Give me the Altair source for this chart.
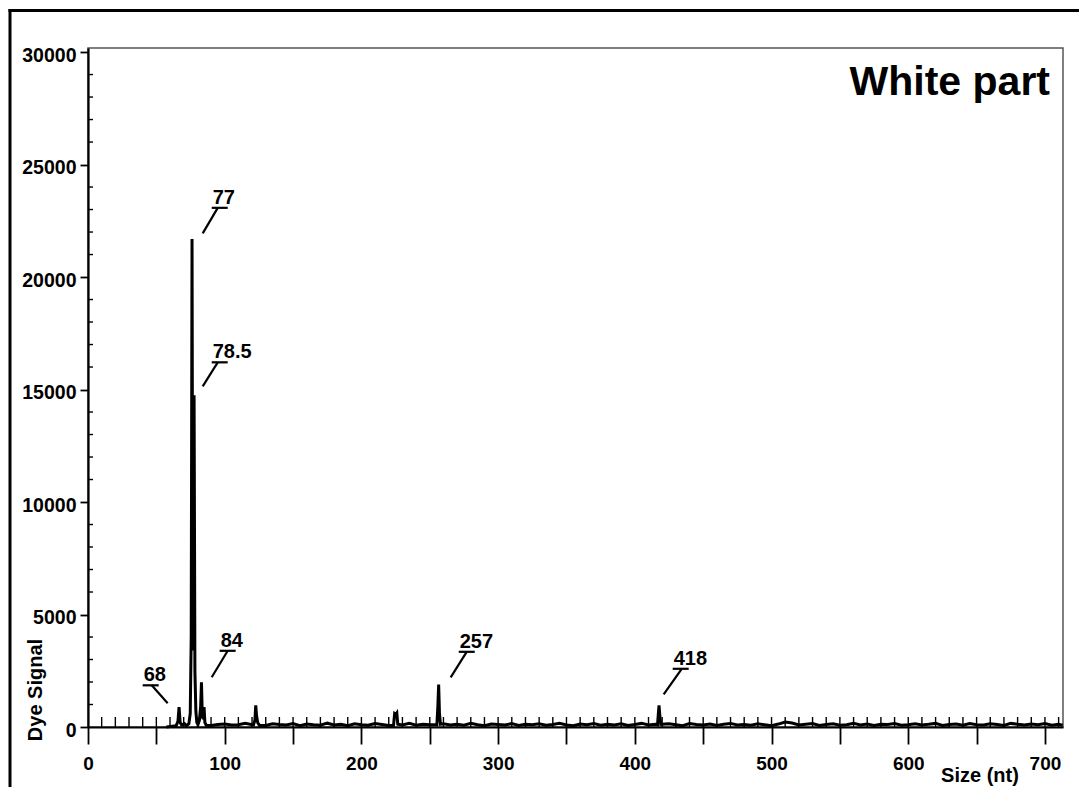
import altair as alt
import pandas as pd

FONT = "Liberation Sans"
X_MAX = 713.2
Y_MAX = 30180
W, H = 975, 679

# ---- trace data (size in nt, dye signal) ----
base_values = [60, 140, 90, 120, 80, 150, 70, 110, 130, 90,
               100, 160, 80, 120, 70, 140, 110, 90, 150, 60,
               130, 100, 80, 170, 90, 120, 60, 140, 100, 80,
               150, 110, 70, 130, 90, 160, 80, 120, 100, 70,
               140, 90, 120, 80, 160, 100, 60, 130, 110, 90,
               150, 70, 120, 100, 140, 80, 110, 170, 90, 60,
               130, 100, 150, 80, 120, 90, 140, 70, 110, 160,
               90, 120, 80, 140, 100, 60, 150, 110, 90, 130,
               70, 120, 160, 90, 110, 80, 140, 100, 60, 130,
               220, 180, 90, 120, 150, 70, 110, 140, 80, 100,
               160, 90, 130, 70, 120, 110, 150, 80, 100, 140,
               90, 120, 160, 70, 110, 130, 80, 150, 100, 90,
               140, 110, 70, 160, 120, 90, 130, 100, 150, 80,
               120]
base_sizes = list(range(60, 711, 5))

peak_sizes = [57.3, 64.5, 65.8, 66.6, 67.4, 68.5, 70.5, 72.0,
              73.8, 74.8, 75.5, 76.1, 76.7, 77.1, 77.6, 78.2, 78.9, 79.6,
              80.5, 81.5, 82.4, 83.0, 83.6, 84.3, 84.9, 85.5, 86.5,
              121.0, 122.1, 122.7, 123.3, 124.2, 125.5,
              223.5, 224.3, 225.2, 225.9, 226.6,
              255.2, 255.9, 256.5, 257.1, 257.8,
              416.6, 417.2, 417.7, 418.3, 419.0,
              713.0]
peak_signals = [0, 60, 250, 889, 200, 90, 150, 60,
                150, 600, 4000, 21690, 3400, 5000, 14740, 2500, 700, 200,
                120, 300, 900, 1987, 500, 350, 889, 200, 80,
                90, 300, 964, 500, 180, 70,
                80, 600, 560, 622, 120,
                100, 900, 1884, 600, 120,
                100, 600, 964, 500, 120,
                80]
peak_windows = [(56, 87.5), (120, 126.5), (222.5, 227.5), (254, 259), (415.5, 420), (711, 714)]

rows = [(s, v) for s, v in zip(base_sizes, base_values)
        if not any(a <= s <= b for a, b in peak_windows)]
rows += list(zip(peak_sizes, peak_signals))
trace = pd.DataFrame(rows, columns=["size", "signal"]).sort_values("size")

# ---- peak annotations ----
ann_label = ["68", "77", "78.5", "84", "257", "418"]
ann_ux = [40.0, 90.5, 90.5, 96.3, 271.2, 427.7]      # underline start (nt)
ann_uy = [1853, 23076, 16209, 3387, 3342, 2587]      # underline level (signal)
ann_sx = [46.6, 94.9, 94.9, 102.2, 277.0, 434.3]      # leader start (nt)
ann_tx = [58.3, 83.9, 83.9, 90.5, 265.3, 421.1]       # leader tip (nt)
ann_ty = [1053, 21942, 15142, 2209, 2209, 1453]       # leader tip (signal)
UNDERLINE_NT = 11.7
ann = pd.DataFrame({"label": ann_label, "ux": ann_ux, "uy": ann_uy,
                    "sx": ann_sx, "tx": ann_tx, "ty": ann_ty})
ann["ux2"] = ann["ux"] + UNDERLINE_NT

# ---- axis tick lists ----
x_major = list(range(0, 701, 50))
x_minor = list(range(10, 711, 10))
y_major = list(range(0, 30001, 5000))
y_minor = [v for v in range(1000, 30000, 1000) if v % 5000 != 0]

xs = alt.Scale(domain=[0, X_MAX], nice=False, zero=False)
ys = alt.Scale(domain=[0, Y_MAX], nice=False, zero=False)

line = alt.Chart(trace).mark_line(color="black", strokeWidth=3, strokeJoin="miter").encode(
    x=alt.X("size:Q", scale=xs, title=None, axis=alt.Axis(
        values=x_major, format="d", title=None, grid=False,
        labelExpr="datum.value % 100 == 0 ? datum.label : ''",
        tickSize=17, tickWidth=1.8, tickColor="black",
        domainColor="black", domainWidth=2.2,
        labelFont=FONT, labelFontSize=19, labelFontWeight="bold", labelColor="black",
        labelPadding=10, labelFlush=False, labelOverlap=False)),
    y=alt.Y("signal:Q", scale=ys, title=None, axis=alt.Axis(
        values=y_major, format="d", title=None, grid=False,
        tickSize=8, tickWidth=1.8, tickColor="black",
        domainColor="black", domainWidth=2.2,
        labelFont=FONT, labelFontSize=19.5, labelFontWeight="bold", labelColor="black",
        labelPadding=4, labelOffset=3, labelFlush=False, labelOverlap=False)),
)

xminor = alt.Chart(pd.DataFrame({"t": x_minor})).mark_rule(color="black", strokeWidth=1.4).encode(
    x=alt.X("t:Q", title=None), y=alt.value(H), y2=alt.value(H - 10))

yminor = alt.Chart(pd.DataFrame({"t": y_minor})).mark_rule(color="black", strokeWidth=1.4).encode(
    y=alt.Y("t:Q", title=None), x=alt.value(0), x2=alt.value(5))

underline = alt.Chart(ann).mark_rule(color="black", strokeWidth=2.2).encode(
    x=alt.X("ux:Q", title=None), x2="ux2:Q", y=alt.Y("uy:Q", title=None))

leader = alt.Chart(ann).mark_rule(color="black", strokeWidth=2.2).encode(
    x=alt.X("sx:Q", title=None), x2="tx:Q",
    y=alt.Y("uy:Q", title=None), y2="ty:Q")

labels = alt.Chart(ann).mark_text(
    font=FONT, fontSize=20, fontWeight="bold", color="black",
    align="left", baseline="alphabetic", dx=1, dy=-4).encode(
    x=alt.X("ux:Q", title=None), y=alt.Y("uy:Q", title=None), text="label:N")

one = pd.DataFrame({"t": ["White part"]})
title = alt.Chart(one).mark_text(
    font=FONT, fontSize=41, fontWeight="bold", color="black",
    align="right", baseline="alphabetic").encode(
    x=alt.value(962), y=alt.value(47), text="t:N")

ytitle = alt.Chart(pd.DataFrame({"t": ["Dye Signal"]})).mark_text(
    font=FONT, fontSize=20, fontWeight="bold", color="black",
    align="center", baseline="alphabetic", angle=270).encode(
    x=alt.value(-46), y=alt.value(642), text="t:N")

xtitle = alt.Chart(pd.DataFrame({"t": ["Size (nt)"]})).mark_text(
    font=FONT, fontSize=20, fontWeight="bold", color="black",
    align="center", baseline="alphabetic").encode(
    x=alt.value(892), y=alt.value(734), text="t:N")

frame_left = alt.Chart(pd.DataFrame({"t": [0]})).mark_rule(color="black", strokeWidth=3).encode(
    x=alt.value(-78), y=alt.value(-39), y2=alt.value(H + 70))
frame_top = alt.Chart(pd.DataFrame({"t": [0]})).mark_rule(color="black", strokeWidth=3).encode(
    y=alt.value(-37.5), x=alt.value(-79.5), x2=alt.value(W + 20))

chart = alt.layer(
    line, xminor, yminor, underline, leader, labels,
    title, ytitle, xtitle, frame_left, frame_top
).properties(
    width=W, height=H,
    autosize=alt.AutoSizeParams(type="none"),
    padding={"left": 80, "top": 40, "right": 16, "bottom": 60},
    background="white",
).configure_view(stroke="#555", strokeWidth=1.5)

chart.save("out.html", embed_options={"renderer": "svg", "actions": False})
